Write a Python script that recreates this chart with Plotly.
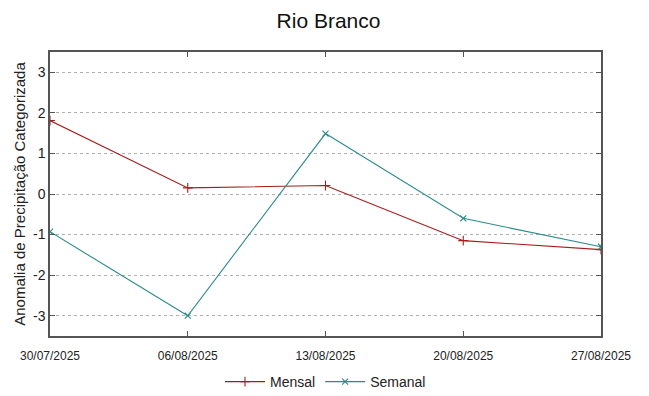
import plotly.graph_objects as go

dates = ["2025-07-30", "2025-08-06", "2025-08-13", "2025-08-20", "2025-08-27"]
tick_labels = ["30/07/2025", "06/08/2025", "13/08/2025", "20/08/2025", "27/08/2025"]
y_ticks = [-3, -2, -1, 0, 1, 2, 3]
y_tick_labels = ["-3", "-2", "-1", "0", "1", "2", "3"]
mensal = [1.81, 0.15, 0.21, -1.15, -1.37]
semanal = [-0.93, -3.0, 1.49, -0.6, -1.3]

FONT = "Liberation Sans, Arial, sans-serif"

fig = go.Figure()
fig.add_trace(go.Scatter(
    x=dates, y=mensal, name="Mensal", mode="lines+markers",
    line=dict(color="#a51c1c", width=1.1),
    marker=dict(symbol="cross-thin", size=7, line=dict(color="#a51c1c", width=1.1)),
))
fig.add_trace(go.Scatter(
    x=dates, y=semanal, name="Semanal", mode="lines+markers",
    line=dict(color="#2a8a8a", width=1.1),
    marker=dict(symbol="x-thin", size=6, line=dict(color="#2a8a8a", width=1.1)),
))

fig.update_layout(
    width=641, height=388,
    margin=dict(l=42, r=48, t=44, b=60, autoexpand=False),
    paper_bgcolor="white", plot_bgcolor="white",
    font=dict(family=FONT, color="#222"),
    title=dict(text="Rio Branco", x=0.5, xanchor="center", y=0.968, yanchor="middle",
               font=dict(size=21, family=FONT, color="#111")),
    showlegend=True,
    legend=dict(orientation="h", x=0.5, xanchor="center", y=-0.162, yanchor="middle",
                font=dict(size=14, family=FONT), itemwidth=40, tracegroupgap=0),
)
fig.update_xaxes(
    type="date", range=[dates[0], dates[-1]], automargin=False,
    tickvals=dates, ticktext=tick_labels,
    tickfont=dict(size=12, family=FONT, color="#222"),
    ticks="inside", ticklen=5, tickcolor="#555", ticklabelstandoff=8,
    showline=True, linecolor="#555", linewidth=1.5, mirror="ticks",
    showgrid=False, zeroline=False,
)
fig.update_yaxes(
    range=[-3.5, 3.5], tickvals=y_ticks, ticktext=y_tick_labels, automargin=False,
    tickfont=dict(size=14, family=FONT, color="#222"),
    ticks="inside", ticklen=5, tickcolor="#555",
    showline=True, linecolor="#555", linewidth=1.5, mirror="ticks",
    showgrid=True, gridcolor="#b0b0b0", griddash="dot", gridwidth=1,
    zeroline=False,
    title=dict(text="Anomalia de Precipitação Categorizada", font=dict(size=15, family=FONT, color="#222"), standoff=4),
)

fig.write_html("out.html")
